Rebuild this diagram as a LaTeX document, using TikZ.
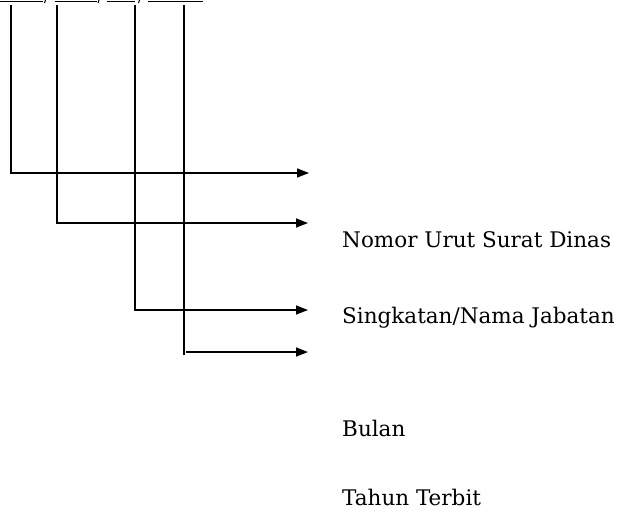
\documentclass[tikz,border=0pt]{standalone}
\usepackage{fontspec}
\setmainfont{DejaVu Serif}
\usetikzlibrary{arrows.meta}
\begin{document}
\begin{tikzpicture}[x=1pt,y=-1pt,
  conn/.style={line width=1.5pt, line join=miter},
  arr/.style={conn, -{Triangle[length=12pt,width=9pt]}},
  lbl/.style={anchor=base west, inner sep=0pt, font=\fontsize{21.5}{24}\selectfont},
  uline/.style={line width=1.3pt}]
\useasboundingbox (0,0) rectangle (631,511);
% top underlines and slash fragments (cut off text)
\draw[uline] (0,1.5) -- (43,1.5);
\draw[uline] (55,1.5) -- (97,1.5);
\draw[uline] (107,1.5) -- (135,1.5);
\draw[uline] (148,1.5) -- (203,1.5);
\draw[line width=1.1pt] (45.5,0) -- (44.5,3);
\draw[line width=1.1pt] (99,0) -- (98,3);
\draw[line width=1.1pt] (139.5,0) -- (138.5,3);
% coordinates
\coordinate (t1) at (11,5);
\coordinate (t2) at (57,5);
\coordinate (t3) at (135,5);
\coordinate (t4) at (184,5);
\coordinate (e1) at (309,173);
\coordinate (e2) at (308,223);
\coordinate (e3) at (308,310);
\coordinate (e4) at (308,352);
\coordinate (b4) at (184,355);
\coordinate (s4) at (186,352);
% connectors
\draw[arr] (t1) |- (e1);
\draw[arr] (t2) |- (e2);
\draw[arr] (t3) |- (e3);
\draw[conn] (t4) -- (b4);
\draw[arr] (s4) -- (e4);
% labels
\node[lbl] (nomor) at (342,247) {Nomor Urut Surat Dinas};
\node[lbl] (singkatan) at (342,323) {Singkatan/Nama Jabatan};
\node[lbl] (bulan) at (342,436) {Bulan};
\node[lbl] (tahun) at (342,505) {Tahun Terbit};
\end{tikzpicture}
\end{document}
